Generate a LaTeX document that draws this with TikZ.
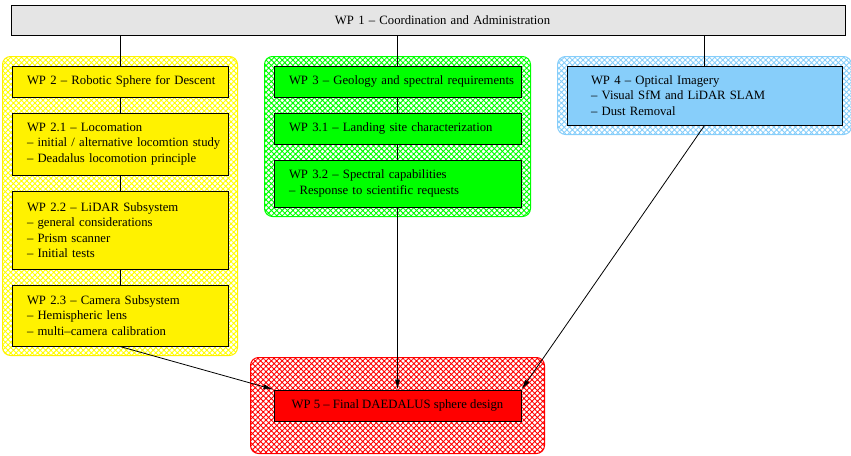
\documentclass[tikz,border=0pt]{standalone}
\usepackage{fontspec}
\setmainfont{Liberation Serif}
\usepackage{tikz}
\usetikzlibrary{arrows.meta,positioning,fit,backgrounds,patterns.meta}

\definecolor{wpgray}{RGB}{229,229,229}
\definecolor{wpblue}{RGB}{135,206,250}

\begin{document}
\begin{tikzpicture}[x=1pt, y=-1pt, >={Latex[length=10pt,width=5pt]}, line width=0.8pt,
    font=\fontsize{12.7}{15.5}\selectfont]

    \tikzstyle{wp} = [rectangle, draw=black, line width=1pt, minimum height=31pt, align=left, inner xsep=1pt, inner ysep=0pt]
    \tikzstyle{wpyellow} = [wp, fill=yellow, minimum width=216pt, text width=214pt, execute at begin node={\leftskip=14pt}]
    \tikzstyle{wpgreen} = [wp, fill=green, minimum width=247pt, text width=245pt, execute at begin node={\leftskip=14pt}]
    \tikzstyle{group} = [rectangle, rounded corners=8pt, line width=1pt, inner sep=9pt]

    \useasboundingbox (0,0) rectangle (851,455);

    \node (wp1)  [wp, fill=wpgray, minimum width=834pt, minimum height=30pt, text width=832pt,
                  execute at begin node={\leftskip=323pt}] at (428,20)
                                               {WP 1 – Coordination and Administration};

    \node (wp2)  [wpyellow] at (120,81.5)      {WP 2 – Robotic Sphere for Descent};
    \node (wp21) [wpyellow, minimum height=62pt, below=15pt of wp2]
                 {WP 2.1 – Locomation\\– initial / alternative locomtion study\\– Deadalus locomotion principle};
    \node (wp22) [wpyellow, minimum height=78pt, below=15pt of wp21]
                 {WP 2.2 – LiDAR Subsystem\\– general considerations\\– Prism scanner\\– Initial tests};
    \node (wp23) [wpyellow, minimum height=61pt, below=15pt of wp22]
                 {WP 2.3 – Camera Subsystem\\– Hemispheric lens\\– multi–camera calibration};

    \node (wp3)  [wpgreen] at (397.5,81.5)     {WP 3 – Geology and spectral requirements};
    \node (wp31) [wpgreen, below=15pt of wp3]  {WP 3.1 – Landing site characterization};
    \node (wp32) [wpgreen, minimum height=47pt, below=15pt of wp31]
                 {WP 3.2 – Spectral capabilities\\– Response to scientific requests};

    \node (wp4)  [wp, fill=wpblue, minimum width=275pt, minimum height=59pt, text width=273pt,
                  execute at begin node={\leftskip=23pt}] at (704.5,95.5)
                 {WP 4 – Optical Imagery\\– Visual SfM and LiDAR SLAM\\– Dust Removal};

    \node (wp5)  [wp, fill=red, minimum width=247pt, align=center] at (397.5,405.5)
                 {WP 5 – Final DAEDALUS sphere design};

    % hatched work package groups
    \begin{scope}[on background layer]
        \node (g2) [group, fit=(wp2)(wp23), draw=yellow, pattern={Hatch[angle=45,distance=3.8pt,line width=0.9pt]}, pattern color=yellow] {};
        \node (g3) [group, fit=(wp3)(wp32), draw=green, pattern={Hatch[angle=45,distance=3.8pt,line width=0.9pt]}, pattern color=green] {};
        \node (g4) [group, fit=(wp4), draw=wpblue, pattern={Hatch[angle=45,distance=3.8pt,line width=0.9pt]}, pattern color=wpblue] {};
        \node (g5) [group, fit=(wp5), inner xsep=23pt, inner ysep=32pt, draw=red, pattern={Hatch[angle=45,distance=3.8pt,line width=0.9pt]}, pattern color=red] {};
    \end{scope}

    \path  (wp1.south -| wp2.north)   edge   (wp2.north);
    \path  (wp1.south -| wp3.north)   edge   (wp3.north);
    \path  (wp1.south -| wp4.north)   edge   (wp4.north);

    \path  (wp2)    edge   (wp21);
    \path  (wp21)   edge   (wp22);
    \path  (wp22)   edge   (wp23);

    \path  (wp3)    edge   (wp31);
    \path  (wp31)   edge   (wp32);

    \path[->]  (wp23.south)   edge   (wp5.north west);
    \path[->]  (wp32.south)   edge   (wp5.north);
    \path[->]  (wp4.south)    edge   (wp5.north east);

\end{tikzpicture}
\end{document}
